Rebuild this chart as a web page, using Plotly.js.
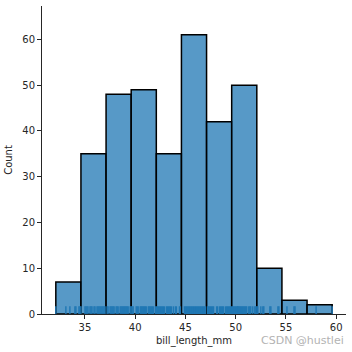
<!DOCTYPE html>
<html>
<head>
<meta charset="utf-8">
<script src="https://cdn.plot.ly/plotly-3.0.1.min.js"></script>
<style>html,body{margin:0;padding:0;background:#fff;}#chart{width:352px;height:352px;}</style>
</head>
<body>
<div id="chart"></div>
<script>
// Histogram bin edges and counts (bill_length_mm)
const binEdges = [32.1, 34.6, 37.1, 39.6, 42.1, 44.6, 47.1, 49.6, 52.1, 54.6, 57.1, 59.6];
const binCounts = [7, 35, 48, 49, 35, 61, 42, 50, 10, 3, 2];
const xTicks = [35, 40, 45, 50, 55, 60];
const yTicks = [0, 10, 20, 30, 40, 50, 60];
// Rug observations (bill_length_mm)
const rugValues = [
39.1,39.5,40.3,36.7,39.3,38.9,39.2,34.1,42.0,37.8,41.1,38.6,34.6,36.6,38.7,42.5,34.4,46.0,37.7,35.9,38.2,38.8,35.3,40.6,40.5,37.9,37.2,40.9,36.4,42.2,37.6,39.8,36.5,40.8,36.0,44.1,37.0,39.6,37.5,42.3,40.1,35.0,34.5,41.4,39.0,35.7,41.3,41.6,35.5,41.8,33.5,39.7,45.8,42.8,36.2,42.1,42.9,35.1,37.3,36.3,36.9,38.3,34.0,38.1,33.1,43.2,41.0,45.6,42.7,40.2,35.2,41.5,38.5,43.1,36.8,35.6,32.1,40.7,
46.1,50.0,48.7,47.6,46.5,45.4,46.7,43.3,46.8,49.0,45.5,48.4,49.3,49.2,46.2,50.2,45.1,46.3,44.5,47.8,48.2,47.3,59.6,49.1,42.6,44.4,44.0,49.6,45.3,50.5,43.6,44.9,45.2,46.6,48.5,50.1,45.0,43.8,50.4,45.7,54.3,49.8,49.5,43.5,50.7,47.7,46.4,48.6,47.5,51.1,52.5,47.4,50.8,43.4,51.3,52.1,52.2,49.4,46.9,55.9,47.2,41.7,53.4,48.1,51.5,55.1,48.8,49.9,
52.7,51.7,47.0,52.0,45.9,50.3,58.0,42.4,50.6,52.8,54.2,51.0,49.7,53.5,50.9,51.4,51.9,55.8,50.2
];

const centers = binCounts.map((c, i) => (binEdges[i] + binEdges[i + 1]) / 2);
const widths = binCounts.map((c, i) => binEdges[i + 1] - binEdges[i]);

const rugX = [], rugY = [];
rugValues.forEach(v => { rugX.push(v, v, null); rugY.push(0, 0.025, null); });

const traces = [
  {
    type: 'bar', x: centers, y: binCounts, width: widths,
    marker: {color: 'rgba(31,119,180,0.75)', line: {color: '#000', width: 1.5}},
    hoverinfo: 'skip', showlegend: false
  },
  {
    type: 'scatter', mode: 'lines', x: rugX, y: rugY, yaxis: 'y2',
    line: {color: '#1f77b4', width: 1.4}, hoverinfo: 'skip', showlegend: false
  }
];

const tickFont = {family: 'DejaVu Sans', size: 10, color: '#262626'};
const layout = {
  width: 352, height: 352,
  margin: {l: 42, r: 6, t: 6, b: 38, pad: 0},
  paper_bgcolor: '#fff', plot_bgcolor: '#fff',
  bargap: 0,
  xaxis: {
    range: [30.725, 60.975], tickvals: xTicks, ticktext: xTicks.map(String),
    ticks: 'outside', ticklen: 4, tickwidth: 1, tickcolor: '#262626',
    showline: true, linecolor: '#262626', linewidth: 1, showgrid: false, zeroline: false,
    tickfont: tickFont,
    title: {text: 'bill_length_mm', font: tickFont, standoff: 4}
  },
  yaxis: {
    range: [0, 67.3], tickvals: yTicks, ticktext: yTicks.map(String),
    ticks: 'outside', ticklen: 4, tickwidth: 1, tickcolor: '#262626',
    showline: true, linecolor: '#262626', linewidth: 1, showgrid: false, zeroline: false,
    tickfont: tickFont,
    title: {text: 'Count', font: tickFont, standoff: 7}
  },
  yaxis2: {overlaying: 'y', range: [0, 1], visible: false, fixedrange: true},
  annotations: [{
    xref: 'paper', yref: 'paper', x: 1.0, y: -0.085, xanchor: 'right', yanchor: 'middle',
    text: 'CSDN @hustlei', showarrow: false,
    font: {family: 'DejaVu Sans', size: 11, color: '#b3b3b3'}
  }]
};

Plotly.newPlot('chart', traces, layout, {staticPlot: true, displayModeBar: false});
</script>
</body>
</html>
